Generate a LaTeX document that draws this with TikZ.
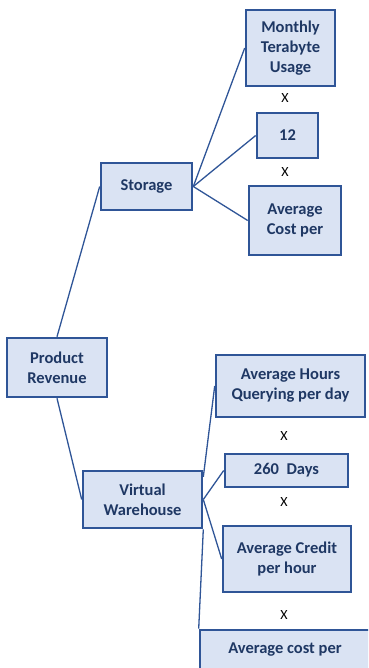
\documentclass[tikz,border=0pt]{standalone}
\usepackage{fontspec}
\setmainfont{Carlito}
\usetikzlibrary{calc}
\definecolor{bord}{HTML}{2F5597}
\definecolor{boxfill}{HTML}{DAE3F3}
\definecolor{boxtext}{HTML}{1F3864}
\tikzset{
  box/.style={draw=bord, line width=2.6bp, fill=boxfill, text=boxtext,
    font=\fontsize{16.5bp}{20bp}\selectfont\bfseries, align=center, inner sep=0pt},
  link/.style={draw=bord, line width=1.3bp},
  times/.style={font=\fontsize{14bp}{16bp}\selectfont, text=black, inner sep=0pt}
}
\begin{document}
\begin{tikzpicture}[x=1bp,y=-1bp]
\useasboundingbox (0,0) rectangle (368,668);
\begin{scope}
\clip (0,0) rectangle (368,668);
\node[box, minimum width=89bp, minimum height=76bp] (mtu) at (290.5,48) {Monthly\\Terabyte\\Usage};
\node[box, minimum width=61bp, minimum height=45bp] (twelve) at (287.5,135.5) {12};
\node[box, minimum width=91bp, minimum height=47bp] (storage) at (146.5,186.5) {Storage};
\node[box, minimum width=92bp, minimum height=69bp] (avgcost) at (295,220.5) {Average\\Cost per};
\node[box, minimum width=100bp, minimum height=59bp] (pr) at (57,367.5) {Product\\Revenue};
\node[box, minimum width=149bp, minimum height=62bp] (hours) at (290.5,386) {Average Hours\\Querying per day};
\node[box, minimum width=123bp, minimum height=33bp] (days) at (286.5,470.5) {260\ \ Days};
\node[box, minimum width=119bp, minimum height=57bp] (vw) at (142.5,499.5) {Virtual\\Warehouse};
\node[box, minimum width=128bp, minimum height=66bp] (credit) at (287,559) {Average Credit\\per hour};
\node[box, minimum width=170bp, minimum height=40bp] (costper) at (285,650) {Average cost per};

\node[times] (x1) at (285,98) {X};
\node[times] (x2) at (285,172) {X};
\node[times] (x3) at (284,436) {X};
\node[times] (x4) at (284,502) {X};
\node[times] (x5) at (284,615) {X};

\draw[link] (pr.north) -- (storage.west);
\draw[link] (pr.south) -- (vw.west);
\draw[link] (storage.east) -- (mtu.west);
\draw[link] (storage.east) -- (twelve.west);
\draw[link] (storage.east) -- (avgcost.west);
\draw[link] ($(vw.north east)!0.12!(vw.south east)$) -- (hours.west);
\draw[link] (vw.east) -- (days.west);
\draw[link] (vw.east) -- (credit.west);
\draw[link] (vw.south east) -- (costper.north west);
\end{scope}
\end{tikzpicture}
\end{document}
